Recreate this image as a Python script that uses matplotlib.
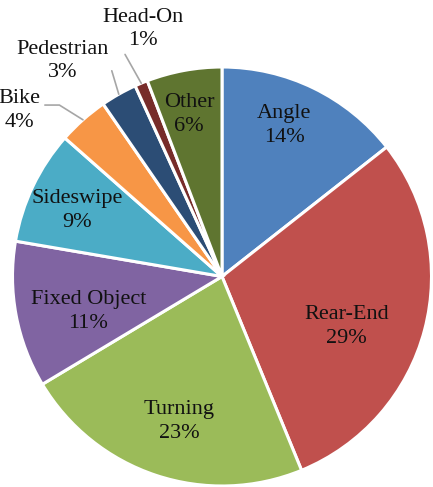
import numpy as np
import matplotlib
matplotlib.use('Agg')
import matplotlib.pyplot as plt

# slice data (clockwise from 12 o'clock)
categories = ['Angle', 'Rear-End', 'Turning', 'Fixed Object', 'Sideswipe',
              'Bike', 'Pedestrian', 'Head-On', 'Other']
shares = [14.4, 29.4, 22.6, 11.3, 8.8, 3.9, 2.8, 1.0, 5.8]
colors = ['#4F81BD', '#C0504D', '#9BBB59', '#8064A2', '#4BACC6',
          '#F79646', '#2C4D75', '#772C2A', '#5F7530']

# label placement: radius (fraction of pie radius) and angle nudge in degrees
label_r = [0.78, 0.64, 0.72, 0.66, 0.76, 1.25, 1.28, 1.24, 0.79]
label_da = [3.5, -7, 2, 4, 1, 9, 7, -5.0, 1]
outside = [False, False, False, False, False, True, True, True, False]
leader_rel = [None, None, None, None, None, (1.0, 0.62), (1.0, 0.52), (0.25, 0.0), None]
leader_conn = [None, None, None, None, None,
               'angle,angleA=0,angleB=148,rad=0', 'arc3', 'arc3', None]

plt.rcParams['font.family'] = ['Liberation Serif', 'DejaVu Serif']

fig = plt.figure(figsize=(4.33, 4.87), dpi=100)
ax = fig.add_axes([12.5 / 433, 1 / 487, 419 / 433, 419 / 487])

wedges, _ = ax.pie(shares, colors=colors, startangle=90, counterclock=False,
                   wedgeprops=dict(edgecolor='white', linewidth=2.2))
ax.set_xlim(-1, 1)
ax.set_ylim(-1, 1)
ax.set_aspect('equal')

for i, w in enumerate(wedges):
    mid = (w.theta1 + w.theta2) / 2
    pct = '%d%%' % round(shares[i] / sum(shares) * 100)
    txt = categories[i] + '\n' + pct
    a = np.deg2rad(mid + label_da[i])
    tx, ty = label_r[i] * np.cos(a), label_r[i] * np.sin(a)
    if not outside[i]:
        ax.text(tx, ty, txt, ha='center', va='center', fontsize=16,
                linespacing=1.35, color='#111111')
    else:
        m = np.deg2rad(mid)
        ax.annotate(txt, xy=(np.cos(m), np.sin(m)), xytext=(tx, ty),
                    ha='center', va='center', fontsize=16, linespacing=1.35,
                    color='#111111', annotation_clip=False,
                    arrowprops=dict(arrowstyle='-', color='#A6A6A6', lw=1.2,
                                    relpos=leader_rel[i], shrinkA=1, shrinkB=0,
                                    connectionstyle=leader_conn[i]))

fig.savefig('out.png', dpi=100)
